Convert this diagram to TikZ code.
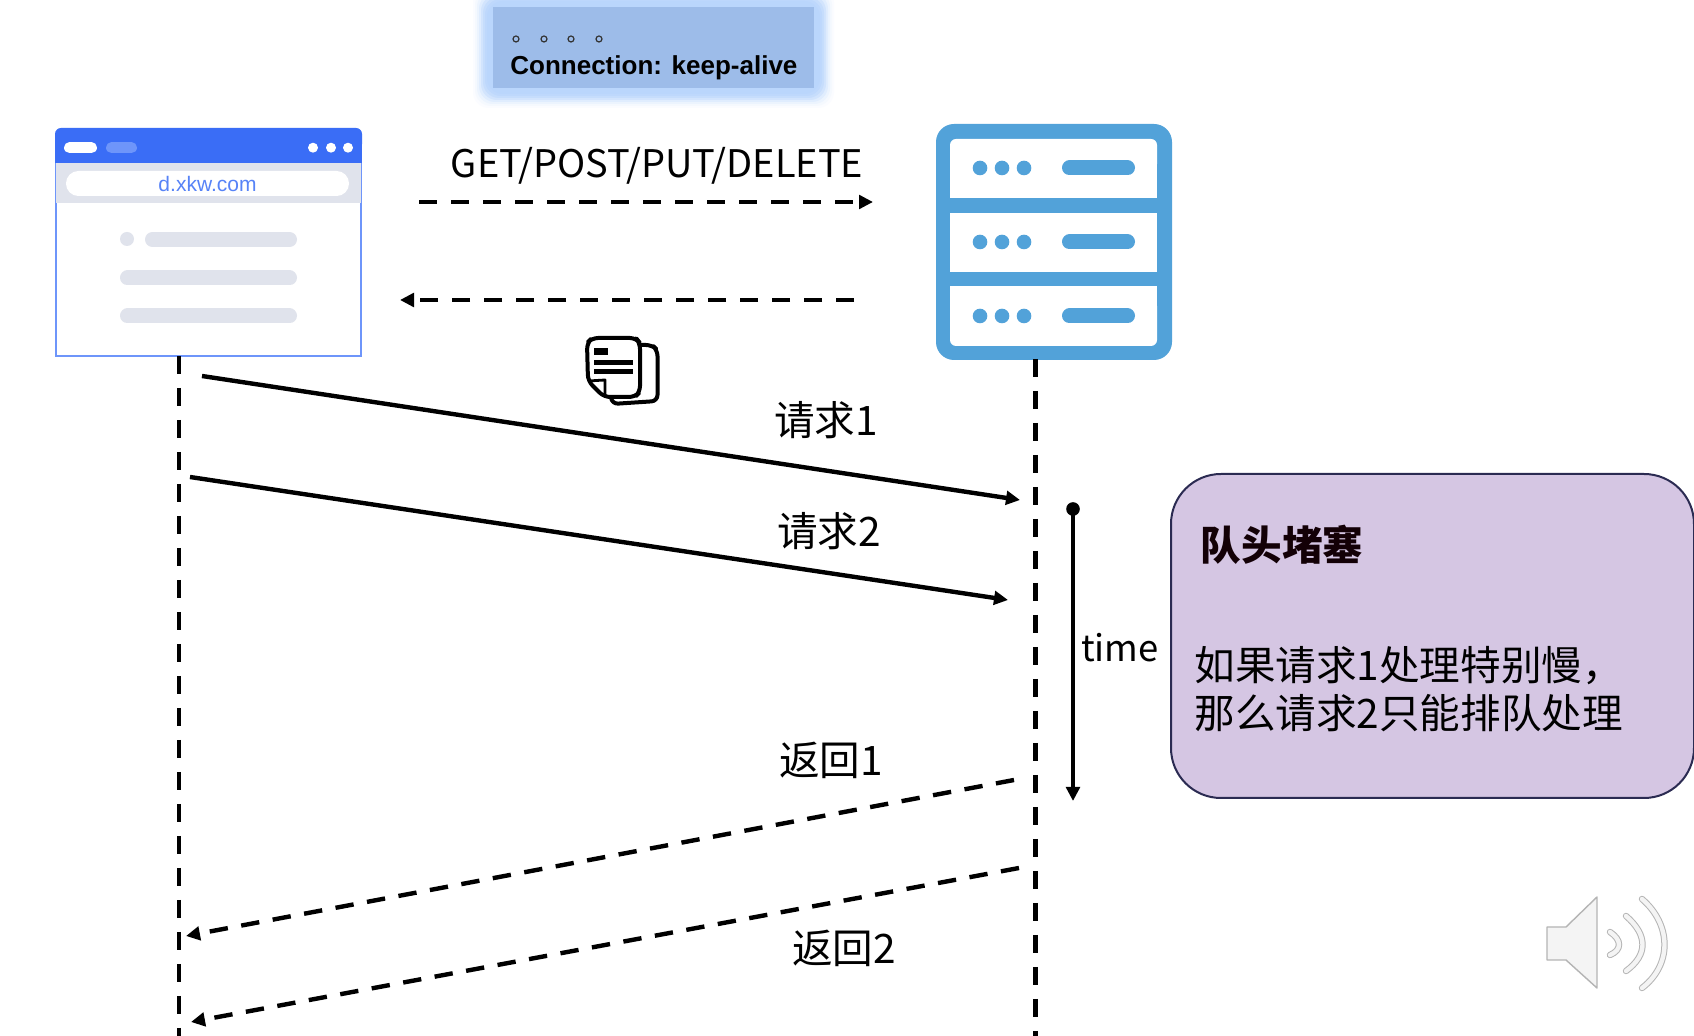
\documentclass[tikz,border=0pt]{standalone}
\usepackage{fontspec}
\setmainfont{Noto Sans CJK SC}
\newfontfamily\arialfont{Liberation Sans}
\usetikzlibrary{arrows.meta}
\definecolor{blueBar}{HTML}{3A6DF6}
\definecolor{blueEdge}{HTML}{6E95FA}
\definecolor{greyBar}{HTML}{E0E3EC}
\definecolor{srvBlue}{HTML}{52A2D9}
\definecolor{topFill}{HTML}{9DBCE9}
\definecolor{glowCol}{HTML}{BAD6FC}
\definecolor{purpleFill}{HTML}{D5C6E3}
\definecolor{purpleEdge}{HTML}{2B2B52}
\definecolor{spkEdge}{HTML}{B4B4B4}
\definecolor{spkFill}{HTML}{F4F4F4}
\tikzset{
  x=0.5pt,y=-0.5pt,
  flow/.style={line width=2.2pt,-{Triangle[length=7pt,width=6.8pt]}},
  dashflow/.style={flow,dash pattern=on 9.2pt off 6.8pt},
  topflow/.style={line width=2.2pt,-{Triangle[length=7pt,width=6.8pt]},dash pattern=on 9.2pt off 6.8pt},
  life/.style={line width=2.3pt,dash pattern=on 9.2pt off 6.8pt},
  lab/.style={font=\fontsize{20.3pt}{24pt}\selectfont,inner sep=0pt,text=black},
  pillbar/.style={line cap=round,line width=7.5pt},
  srvbar/.style={line cap=round,line width=7.5pt,draw=srvBlue},
  spkarc/.style={line cap=round,double=spkFill,draw=spkEdge,line width=0.5pt,double distance=2.2pt},
}
\begin{document}
\begin{tikzpicture}
\useasboundingbox (0,0) rectangle (1694,1036);
\fill[white] (0,0) rectangle (1694,1036);
% top box with glow
\foreach \g/\p in {20/6,18/14,16/28,14/45,12/65,10/82,8/94,6/100}{
  \fill[glowCol!\p!white,rounded corners=8pt] (493-\g,7-\g) rectangle (814+\g,88+\g);
}
\node[fill=topFill,minimum width=160.5pt,minimum height=40.5pt,inner sep=0pt] (hdr) at (653.5,47.5) {};
\foreach \cx in {516,544,571,599}{\draw[black!80,line width=0.6pt] (\cx,39) circle (3);}
\node[anchor=base west,inner sep=0pt,font=\arialfont\fontsize{13pt}{16pt}\selectfont\bfseries] (conn) at (510,75) {Connection: keep-alive};
% browser
\node[draw=blueEdge,fill=white,line width=1pt,minimum width=152.5pt,minimum height=108pt,inner sep=0pt] (browser) at (208.5,248) {};
\fill[blueBar,rounded corners=3pt] (55,128) rectangle (362,150);
\fill[blueBar] (55,140) rectangle (362,163);
\fill[greyBar] (56,163) rectangle (361,203);
\draw[white,pillbar,line width=5.5pt] (69.5,147.7) -- (91.5,147.7);
\draw[blueEdge,pillbar,line width=5.5pt] (111.5,147.7) -- (131.5,147.7);
\foreach \cx in {313,331,348}{\fill[white] (\cx,147.7) circle (5);}
\node[fill=white,rounded corners=6.2pt,minimum width=141.5pt,minimum height=12.5pt,inner sep=0pt] (urlbar) at (207.5,183.5) {};
\node[inner sep=0pt,text=blueBar!85!white,font=\arialfont\fontsize{10.5pt}{12pt}\selectfont] (url) at (207.5,184) {d.xkw.com};
\fill[greyBar] (127,239) circle (7);
\draw[greyBar,pillbar] (152.5,239.5) -- (289.5,239.5);
\draw[greyBar,pillbar] (127.5,278) -- (289.5,278);
\draw[greyBar,pillbar] (127.5,316) -- (289.5,316);
% server
\node[fill=srvBlue,rounded corners=9pt,minimum width=118pt,minimum height=118pt,inner sep=0pt] (server) at (1054,242) {};
\fill[white,rounded corners=3pt] (950,139) rectangle (1157,170);
\fill[white] (950,160) rectangle (1157,198);
\fill[white] (950,213) rectangle (1157,272);
\fill[white] (950,286) rectangle (1157,320);
\fill[white,rounded corners=3pt] (950,300) rectangle (1157,346);
\foreach \ry in {168,242,316}{
  \foreach \cx in {980,1002,1024}{\fill[srvBlue] (\cx,\ry) circle (7.3);}
  \draw[srvbar] (1069.5,\ry) -- (1127.5,\ry);
}
% document icon
\draw[black,line width=2pt,rounded corners=3pt,line join=round] (641,345) -- (652,345) -- (657.5,350) -- (657.5,401) -- (612,404) -- (611,397);
\fill[white,rounded corners=3pt] (588,338) -- (640,338) -- (640,397) -- (604,397) -- (588,381) -- cycle;
\draw[black,line width=2pt,line join=round,rounded corners=3pt] (604,397) -- (588,381) -- (587,343) -- (592,338) -- (636,338) -- (640,343) -- (640,392) -- (635,397) -- cycle;
\draw[black,line width=1.4pt,line join=round] (588,381) -- (605,380) -- (605,397);
\fill[black] (594,348) rectangle (608,355);
\fill[black] (594,360) rectangle (633,365);
\fill[black] (594,369) rectangle (633,374);
% lifelines
\coordinate (lifeA) at (179,1036);
\coordinate (lifeB) at (1035.5,1036);
\coordinate (lifeAtop) at (179,356);
\coordinate (lifeBtop) at (1035.5,359);
\draw[life] (lifeAtop) -- (lifeA);
\draw[life] (lifeBtop) -- (lifeB);
% top arrows
\coordinate (gS) at (419,202); \coordinate (gE) at (873,202);
\coordinate (bS) at (854,300); \coordinate (bE) at (400,300);
\draw[topflow] (gS) -- (gE);
\draw[topflow] (bS) -- (bE);
\node[inner sep=0pt,font=\fontsize{19pt}{23pt}\selectfont] (methods) at (657,166) {GET/POST/PUT/DELETE};
% requests
\coordinate (r1S) at (202,376); \coordinate (r1E) at (1020,500);
\coordinate (r2S) at (190,477); \coordinate (r2E) at (1008,600);
\coordinate (p1S) at (1014,780); \coordinate (p1E) at (186,936);
\coordinate (p2S) at (1019,868); \coordinate (p2E) at (191,1022);
\draw[flow] (r1S) -- (r1E);
\draw[flow] (r2S) -- (r2E);
\draw[dashflow] (p1S) -- (p1E);
\draw[dashflow] (p2S) -- (p2E);
\node[lab] (req1) at (826,420) {请求1};
\node[lab] (req2) at (829,531) {请求2};
\node[lab] (ret1) at (831,760) {返回1};
\node[lab] (ret2) at (844,948) {返回2};
% time
\coordinate (tS) at (1073,509); \coordinate (tE) at (1073,801);
\fill[black] (tS) circle (6.8);
\draw[flow] (tS) -- (tE);
\node[lab,font=\fontsize{18.2pt}{22pt}\selectfont] (timeL) at (1120,648) {time};
% purple box
\node[draw=purpleEdge,fill=purpleFill,line width=1pt,rounded corners=25pt,minimum width=261.5pt,minimum height=162pt,inner sep=0pt] (note) at (1432.5,636) {};
\node[anchor=center,inner sep=0pt,text=black!90!purple,font=\fontsize{20.3pt}{24pt}\selectfont\bfseries] (noteT) at (1282,545) {队头堵塞};
\node[anchor=west,inner sep=0pt,align=left,font=\fontsize{20.3pt}{23.8pt}\selectfont] (noteB) at (1194,689) {如果请求1处理特别慢，\\那么请求2只能排队处理};
% speaker
\draw[spkEdge,fill=spkFill,line width=0.7pt,line join=round] (1547,927) -- (1566,927) -- (1597,897) -- (1597,988) -- (1566,960) -- (1547,960) -- cycle;
\draw[spkarc] (1610,932) .. controls (1622,940) and (1622,950) .. (1610,955);
\draw[spkarc] (1626,916) .. controls (1648,935) and (1648,955) .. (1626,971);
\draw[spkarc] (1642,899) .. controls (1672,925) and (1672,965) .. (1642,988);
\end{tikzpicture}
\end{document}
